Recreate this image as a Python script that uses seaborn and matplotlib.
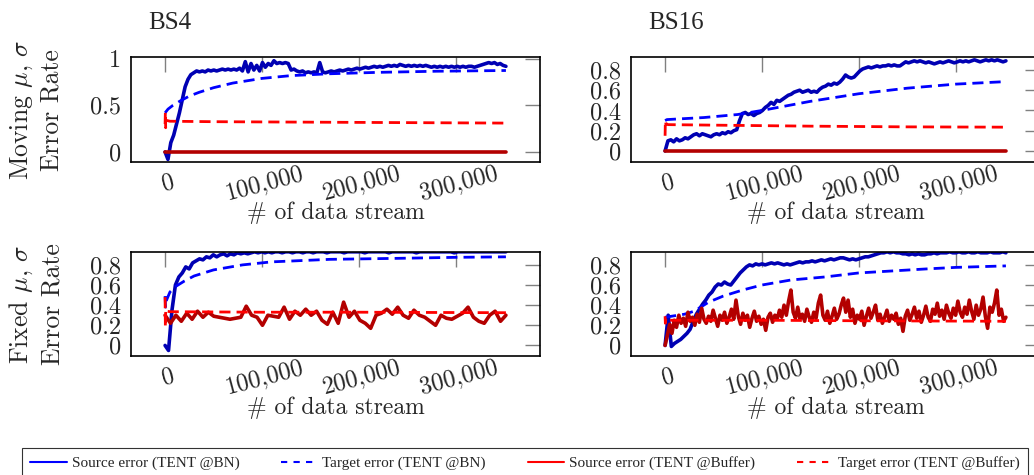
import numpy as np
import matplotlib
matplotlib.use("Agg")
import matplotlib.pyplot as plt
import matplotlib.transforms as mtransforms
from matplotlib.lines import Line2D
import seaborn as sns

# ---------------- data ----------------
X_END = 352000
x_ticks = [0, 100000, 200000, 300000]
x_tick_labels = ["0", "100,000", "200,000", "300,000"]
col_titles = ["BS4", "BS16"]
row_labels = ["Moving $\\mu$, $\\sigma$\nError Rate", "Fixed $\\mu$, $\\sigma$\nError Rate"]
legend_labels = ["Source error (TENT @BN)", "Target error (TENT @BN)",
                 "Source error (TENT @Buffer)", "Target error (TENT @Buffer)"]

# --- BS4, moving ---
tl_src_bn = [
    0.00, -0.08, 0.10, 0.18, 0.30, 0.42, 0.56, 0.70, 0.78, 0.83,
    0.85, 0.87, 0.86, 0.87, 0.86, 0.88, 0.87, 0.88, 0.87, 0.88,
    0.89, 0.88, 0.89, 0.88, 0.89, 0.88, 0.90, 0.87, 0.97, 0.86,
    0.95, 0.88, 0.93, 0.87, 0.96, 0.91, 0.95, 0.93, 0.98, 0.95,
    0.96, 0.95, 0.96, 0.95, 0.88, 0.89, 0.87, 0.86, 0.87, 0.85,
    0.86, 0.85, 0.86, 0.85, 0.96, 0.86, 0.85, 0.86, 0.87, 0.86,
    0.87, 0.88, 0.87, 0.88, 0.89, 0.88, 0.89, 0.90, 0.89, 0.90,
    0.91, 0.90, 0.91, 0.92, 0.91, 0.92, 0.91, 0.92, 0.93, 0.92,
    0.93, 0.92, 0.94, 0.93, 0.92, 0.93, 0.92, 0.93, 0.92, 0.93,
    0.92, 0.93, 0.92, 0.91, 0.92, 0.91, 0.92, 0.91, 0.92, 0.91,
    0.92, 0.91, 0.92, 0.91, 0.92, 0.91, 0.92, 0.92, 0.91, 0.92,
    0.93, 0.94, 0.95, 0.96, 0.95, 0.96, 0.94, 0.95, 0.93, 0.92]
tl_tgt_bn_x = [0, 3000, 8000, 16000, 25000, 35000, 50000, 70000, 100000, 130000, 170000, 220000, 280000, 352000]
tl_tgt_bn = [0.42, 0.46, 0.50, 0.55, 0.60, 0.64, 0.69, 0.74, 0.79, 0.82, 0.84, 0.855, 0.867, 0.875]
tl_src_buf_x = [0, 88000, 176000, 264000, 352000]
tl_src_buf = [0.0, 0.0, 0.0, 0.0, 0.0]
tl_tgt_buf_x = [0, 300, 600, 1000, 5000, 50000, 150000, 250000, 352000]
tl_tgt_buf = [0.30, 0.43, 0.26, 0.34, 0.33, 0.325, 0.32, 0.315, 0.31]

# --- BS16, moving ---
tr_src_bn = [
    0.00, 0.10, 0.11, 0.09, 0.12, 0.10, 0.11, 0.13, 0.12, 0.14,
    0.16, 0.17, 0.15, 0.17, 0.16, 0.15, 0.14, 0.16, 0.17, 0.16,
    0.18, 0.17, 0.19, 0.18, 0.20, 0.21, 0.30, 0.37, 0.38, 0.36,
    0.37, 0.35, 0.37, 0.38, 0.40, 0.43, 0.45, 0.48, 0.46, 0.50,
    0.49, 0.51, 0.53, 0.55, 0.56, 0.58, 0.59, 0.60, 0.58, 0.59,
    0.60, 0.58, 0.59, 0.58, 0.61, 0.63, 0.64, 0.66, 0.65, 0.67,
    0.66, 0.68, 0.71, 0.75, 0.73, 0.72, 0.73, 0.76, 0.79, 0.81,
    0.82, 0.83, 0.82, 0.83, 0.84, 0.83, 0.84, 0.84, 0.85, 0.84,
    0.85, 0.84, 0.84, 0.86, 0.88, 0.87, 0.88, 0.89, 0.88, 0.89,
    0.88, 0.87, 0.88, 0.87, 0.86, 0.87, 0.88, 0.87, 0.88, 0.89,
    0.88, 0.87, 0.88, 0.89, 0.88, 0.89, 0.88, 0.89, 0.90, 0.89,
    0.88, 0.89, 0.90, 0.89, 0.90, 0.89, 0.90, 0.89, 0.88, 0.89]
tr_tgt_bn_x = [0, 2000, 40000, 75000, 100000, 150000, 200000, 250000, 300000, 352000]
tr_tgt_bn = [0.30, 0.31, 0.33, 0.36, 0.40, 0.49, 0.565, 0.62, 0.66, 0.685]
tr_src_buf_x = [0, 88000, 176000, 264000, 352000]
tr_src_buf = [0.0, 0.0, 0.0, 0.0, 0.0]
tr_tgt_buf_x = [0, 300, 800, 3000, 50000, 150000, 250000, 352000]
tr_tgt_buf = [0.15, 0.30, 0.27, 0.26, 0.255, 0.245, 0.238, 0.235]

# --- BS4, fixed ---
bl_src_bn = [
    0.00, -0.05, 0.35, 0.60, 0.68, 0.72, 0.78, 0.76, 0.82, 0.84,
    0.86, 0.85, 0.88, 0.87, 0.90, 0.88, 0.90, 0.91, 0.89, 0.91,
    0.90, 0.92, 0.91, 0.92, 0.91, 0.92, 0.93, 0.92, 0.93, 0.92,
    0.93, 0.92, 0.93, 0.93, 0.92, 0.93, 0.93, 0.92, 0.93, 0.93,
    0.92, 0.93, 0.93, 0.92, 0.93, 0.93, 0.93, 0.92, 0.93, 0.93,
    0.93, 0.93, 0.92, 0.93, 0.93, 0.93, 0.93, 0.93, 0.92, 0.93,
    0.93, 0.93, 0.93, 0.93, 0.93, 0.92, 0.93, 0.93, 0.93, 0.93,
    0.93, 0.93, 0.93, 0.92, 0.93, 0.93, 0.93, 0.93, 0.93, 0.93,
    0.93, 0.93, 0.93, 0.93, 0.92, 0.93, 0.93, 0.93, 0.93, 0.93,
    0.93, 0.93, 0.93, 0.93, 0.93, 0.93, 0.93, 0.93, 0.93, 0.93]
bl_tgt_bn_x = [0, 500, 1500, 5000, 10000, 20000, 30000, 50000, 80000, 110000, 170000, 240000, 300000, 352000]
bl_tgt_bn = [0.49, 0.38, 0.45, 0.53, 0.58, 0.64, 0.69, 0.75, 0.80, 0.83, 0.855, 0.865, 0.875, 0.88]
bl_src_buf = [
    0.30, 0.22, 0.30, 0.24, 0.32, 0.26, 0.34, 0.28, 0.33, 0.29,
    0.28, 0.27, 0.26, 0.27, 0.28, 0.39, 0.30, 0.28, 0.20, 0.30,
    0.29, 0.28, 0.38, 0.26, 0.34, 0.30, 0.36, 0.30, 0.34, 0.25,
    0.21, 0.33, 0.22, 0.43, 0.28, 0.34, 0.25, 0.22, 0.17, 0.30,
    0.32, 0.36, 0.31, 0.38, 0.30, 0.27, 0.35, 0.30, 0.28, 0.24,
    0.20, 0.30, 0.27, 0.26, 0.29, 0.32, 0.38, 0.28, 0.24, 0.22,
    0.30, 0.34, 0.24, 0.30]
bl_tgt_buf_x = [0, 300, 700, 1500, 5000, 100000, 200000, 352000]
bl_tgt_buf = [0.48, 0.18, 0.36, 0.34, 0.335, 0.33, 0.33, 0.325]

# --- BS16, fixed ---
br_src_bn = [
    0.00, 0.30, -0.01, 0.02, 0.04, 0.06, 0.09, 0.12, 0.16, 0.24,
    0.31, 0.36, 0.41, 0.45, 0.50, 0.53, 0.58, 0.61, 0.60, 0.63,
    0.61, 0.60, 0.64, 0.68, 0.72, 0.75, 0.78, 0.80, 0.79, 0.81,
    0.80, 0.81, 0.80, 0.81, 0.82, 0.81, 0.82, 0.81, 0.80, 0.81,
    0.80, 0.81, 0.82, 0.83, 0.82, 0.83, 0.83, 0.84, 0.83, 0.84,
    0.85, 0.84, 0.85, 0.86, 0.85, 0.86, 0.87, 0.87, 0.86, 0.85,
    0.86, 0.85, 0.86, 0.87, 0.88, 0.88, 0.89, 0.90, 0.91, 0.92,
    0.92, 0.93, 0.92, 0.93, 0.92, 0.92, 0.91, 0.91, 0.90, 0.91,
    0.90, 0.91, 0.90, 0.90, 0.91, 0.91, 0.92, 0.91, 0.92, 0.92,
    0.92, 0.93, 0.92, 0.92, 0.93, 0.92, 0.92, 0.93, 0.92, 0.92,
    0.93, 0.92, 0.92, 0.92, 0.93, 0.92, 0.92, 0.92, 0.93, 0.92]
br_tgt_bn_x = [0, 20000, 30000, 45000, 60000, 80000, 100000, 130000, 165000, 200000, 235000, 270000, 300000, 352000]
br_tgt_bn = [0.28, 0.31, 0.34, 0.43, 0.49, 0.55, 0.60, 0.65, 0.68, 0.72, 0.74, 0.76, 0.775, 0.79]
br_src_buf = [
    0.00, 0.10, 0.21, 0.12, 0.25, 0.18, 0.30, 0.22, 0.27, 0.19,
    0.33, 0.24, 0.28, 0.20, 0.31, 0.23, 0.37, 0.26, 0.22, 0.29,
    0.24, 0.35, 0.27, 0.19, 0.30, 0.25, 0.33, 0.22, 0.28, 0.36,
    0.26, 0.45, 0.29, 0.21, 0.32, 0.25, 0.30, 0.18, 0.27, 0.34,
    0.24, 0.29, 0.21, 0.26, 0.15, 0.28, 0.32, 0.23, 0.30, 0.26,
    0.35, 0.28, 0.40, 0.30, 0.44, 0.55, 0.33, 0.27, 0.38, 0.26,
    0.31, 0.24, 0.36, 0.28, 0.23, 0.33, 0.27, 0.42, 0.50, 0.30,
    0.25, 0.34, 0.22, 0.29, 0.37, 0.26, 0.31, 0.40, 0.47, 0.33,
    0.45, 0.28, 0.36, 0.22, 0.30, 0.26, 0.34, 0.20, 0.29, 0.37,
    0.27, 0.33, 0.40, 0.25, 0.31, 0.22, 0.28, 0.35, 0.24, 0.30,
    0.26, 0.32, 0.21, 0.27, 0.14, 0.29, 0.35, 0.25, 0.31, 0.38,
    0.27, 0.34, 0.23, 0.30, 0.39, 0.28, 0.24, 0.36, 0.31, 0.42,
    0.29, 0.35, 0.26, 0.40, 0.32, 0.27, 0.37, 0.30, 0.44, 0.33,
    0.28, 0.38, 0.31, 0.45, 0.34, 0.26, 0.40, 0.30, 0.36, 0.48,
    0.29, 0.17, 0.38, 0.33, 0.42, 0.55, 0.30, 0.36, 0.24, 0.28]
br_tgt_buf_x = [0, 300, 800, 3000, 100000, 200000, 352000]
br_tgt_buf = [0.29, 0.22, 0.27, 0.25, 0.25, 0.245, 0.24]

# ---------------- styling ----------------
sns.set_theme(style="white")
plt.rcParams["font.family"] = ["cmr10", "DejaVu Serif"]
plt.rcParams["mathtext.fontset"] = "cm"
plt.rcParams["axes.unicode_minus"] = False
plt.rcParams["axes.formatter.use_mathtext"] = True

C_SRC_BN = "#0000b3"
C_TGT_BN = "#0000ff"
C_SRC_BUF = "#b30000"
C_TGT_BUF = "#ff0000"
DASH = (4, 2.2)

fig = plt.figure(figsize=(10.34, 4.75), dpi=100)
W, H = 1034.0, 475.0


def axes_px(left, top, width, height):
    return fig.add_axes([left / W, 1 - (top + height) / H, width / W, height / H])


ax_tl = axes_px(131, 57, 409, 105)
ax_tr = axes_px(631, 57, 409, 105)
ax_bl = axes_px(131, 252, 409, 104)
ax_br = axes_px(631, 252, 409, 104)

panels = [
    (ax_tl, tl_src_bn, tl_tgt_bn_x, tl_tgt_bn, tl_src_buf_x, tl_src_buf, tl_tgt_buf_x, tl_tgt_buf,
     (-0.108, 1.02), [0, 0.5, 1], ["0", "0.5", "1"]),
    (ax_tr, tr_src_bn, tr_tgt_bn_x, tr_tgt_bn, tr_src_buf_x, tr_src_buf, tr_tgt_buf_x, tr_tgt_buf,
     (-0.109, 0.928), [0, 0.2, 0.4, 0.6, 0.8], ["0", "0.2", "0.4", "0.6", "0.8"]),
    (ax_bl, bl_src_bn, bl_tgt_bn_x, bl_tgt_bn, None, bl_src_buf, bl_tgt_buf_x, bl_tgt_buf,
     (-0.105, 0.928), [0, 0.2, 0.4, 0.6, 0.8], ["0", "0.2", "0.4", "0.6", "0.8"]),
    (ax_br, br_src_bn, br_tgt_bn_x, br_tgt_bn, None, br_src_buf, br_tgt_buf_x, br_tgt_buf,
     (-0.105, 0.928), [0, 0.2, 0.4, 0.6, 0.8], ["0", "0.2", "0.4", "0.6", "0.8"]),
]

offset = mtransforms.ScaledTranslation(3 / 100, 0, fig.dpi_scale_trans)

for (ax, sbn, tbx, tbn, sbx, sbuf, tux, tbuf, ylim, yt, ytl) in panels:
    xs = np.linspace(0, X_END, len(sbn))
    sns.lineplot(x=xs, y=sbn, ax=ax, color=C_SRC_BN, lw=2.6, estimator=None, sort=False)
    sns.lineplot(x=tbx, y=tbn, ax=ax, color=C_TGT_BN, lw=2.0, estimator=None, sort=False)
    ax.lines[-1].set_dashes(DASH)
    if sbx is None:
        sbx = np.linspace(0, X_END, len(sbuf))
    sns.lineplot(x=sbx, y=sbuf, ax=ax, color=C_SRC_BUF, lw=2.6, estimator=None, sort=False)
    sns.lineplot(x=tux, y=tbuf, ax=ax, color=C_TGT_BUF, lw=2.0, estimator=None, sort=False)
    ax.lines[-1].set_dashes(DASH)

    ax.set_xlim(-35200, 387200)
    ax.set_ylim(*ylim)
    ax.set_xticks(x_ticks)
    ax.set_xticklabels(x_tick_labels, rotation=15, rotation_mode="anchor", ha="center", va="center")
    ax.set_yticks(yt)
    ax.set_yticklabels(ytl)
    ax.tick_params(axis="both", direction="in", length=11, width=1.0, color="#808080",
                   top=True, right=True, labelsize=17.5)
    ax.tick_params(axis="x", pad=15)
    ax.tick_params(axis="y", pad=7)
    for lab in ax.get_xticklabels():
        lab.set_transform(lab.get_transform() + offset)
    for sp in ax.spines.values():
        sp.set_color("black")
        sp.set_linewidth(1.2)
    ax.set_xlabel("# of data stream", fontsize=17)
    ax.xaxis.label.set_va("center")
    ax.set_ylabel("")

ax_tl.xaxis.set_label_coords(0.5, -51 / 105)
ax_tr.xaxis.set_label_coords(0.5, -51 / 105)
ax_bl.xaxis.set_label_coords(0.5, -52 / 104)
ax_br.xaxis.set_label_coords(0.5, -52 / 104)

# column titles
fig.text(170 / W, 1 - 23 / H, col_titles[0], ha="center", va="center",
         family="Liberation Serif", fontsize=18)
fig.text(676 / W, 1 - 23 / H, col_titles[1], ha="center", va="center",
         family="Liberation Serif", fontsize=18)

# row labels
fig.text(36 / W, 1 - 110 / H, row_labels[0], rotation=90, ha="center", va="center",
         fontsize=18.5, linespacing=1.3, multialignment="center")
fig.text(36 / W, 1 - 304 / H, row_labels[1], rotation=90, ha="center", va="center",
         fontsize=18.5, linespacing=1.3, multialignment="center")

# legend
handles = [
    Line2D([], [], color="blue", lw=1.5),
    Line2D([], [], color="blue", lw=1.5, dashes=(3, 3)),
    Line2D([], [], color="red", lw=1.5),
    Line2D([], [], color="red", lw=1.5, dashes=(3, 3)),
]
leg = fig.legend(handles, legend_labels, loc="upper left",
                 bbox_to_anchor=(22 / W, 0, 1006 / W, 27 / H), mode="expand", ncol=4,
                 frameon=True, fancybox=False, edgecolor="black", borderaxespad=0,
                 prop={"family": "Liberation Serif", "size": 11},
                 handlelength=2.4, handletextpad=0.3, borderpad=0.55)
leg.get_frame().set_linewidth(0.8)

fig.savefig("out.png", dpi=100)
